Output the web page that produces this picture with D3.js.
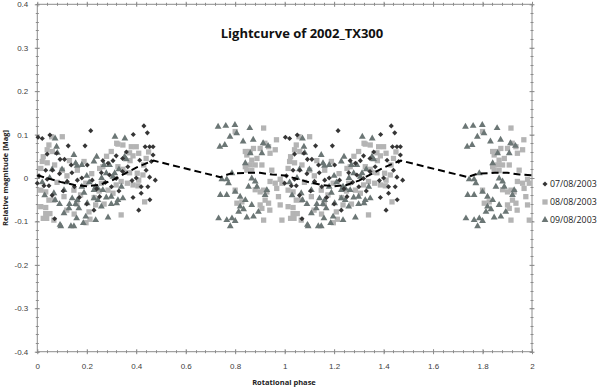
<!DOCTYPE html>
<html>
<head>
<meta charset="utf-8">
<script src="https://cdn.jsdelivr.net/npm/d3@7"></script>
<style>
  body { margin: 0; background: #fff; }
  svg { display: block; font-family: "Open Sans", "Noto Sans", sans-serif; }
  .axis path, .axis line { stroke: #8c8c8c; }
  .axis text { fill: #404040; font-size: 8px; }
</style>
</head>
<body>
<div id="chart"></div>
<script>
// phase (0..1) and relative magnitude; plotted twice (phase, phase + 1)
const day07 = [
  [0.003,0.094],[0.02,0.091],[0.051,0.099],[0.125,0.074],[0.193,0.074],[0.216,0.109],[0.04,0.055],
  [0.078,0.057],[0.092,0.043],[0.11,0.043],[0.137,0.03],[0.034,0.018],[0.061,0.018],[0.202,0.03],
  [0.007,0.005],[0.04,-0.003],[0.0,-0.012],[0.027,-0.018],[0.047,-0.018],[0.121,-0.008],[0.162,-0.005],
  [0.222,-0.005],[0.07,-0.094],[0.229,-0.074],[0.431,0.12],[0.445,0.104],[0.436,0.072],[0.454,0.072],
  [0.468,0.072],[0.468,0.053],[0.319,0.051],[0.414,0.041],[0.265,0.04],[0.286,0.034],[0.306,0.04],
  [0.366,0.026],[0.461,0.038],[0.259,0.012],[0.292,0.007],[0.44,0.018],[0.319,-0.001],[0.454,0.002],
  [0.477,-0.005],[0.42,-0.02],[0.447,-0.02],[0.383,-0.006],[0.387,-0.045],[0.41,-0.074],[0.252,-0.043],
  [0.09,0.01],[0.15,-0.02],[0.18,0.0],[0.105,-0.03],[0.24,-0.025],[0.345,0.015],[0.4,0.0],[0.33,-0.03],
  [0.17,-0.045],[0.06,-0.04],[0.14,0.012],[0.275,-0.01],[0.36,0.06],[0.388,0.1],[0.2,-0.06],
  [0.42,-0.035],[0.3,-0.02],[0.455,-0.05],[0.345,0.045]
];
const day08 = [
  [0.101,0.095],[0.058,0.095],[0.047,0.076],[0.04,0.065],[0.061,0.061],[0.02,0.038],[0.04,0.035],
  [0.024,0.049],[0.014,0.022],[0.189,0.038],[0.162,0.018],[0.101,0.018],[0.014,-0.028],[0.034,-0.032],
  [0.047,-0.051],[0.067,-0.051],[0.014,-0.066],[0.034,-0.068],[0.034,-0.082],[0.051,-0.082],[0.067,-0.097],
  [0.108,-0.043],[0.148,-0.028],[0.175,-0.039],[0.209,-0.078],[0.236,-0.062],[0.196,-0.012],
  [0.326,0.078],[0.346,0.076],[0.38,0.072],[0.4,0.072],[0.41,0.057],[0.373,0.058],[0.387,0.051],
  [0.299,0.061],[0.252,0.022],[0.265,0.026],[0.326,0.026],[0.346,0.02],[0.353,0.013],[0.373,0.012],
  [0.404,0.011],[0.427,0.007],[0.387,-0.016],[0.407,-0.018],[0.339,-0.008],[0.364,-0.012],[0.434,-0.055],
  [0.339,-0.085],[0.286,-0.028],[0.306,-0.035],[0.259,-0.012],[0.319,-0.016],[0.024,-0.093],[0.038,-0.093],
  [0.119,-0.074],[0.197,-0.103],[0.213,-0.095],[0.149,-0.083],[0.321,0.08],[0.375,0.04],
  [0.12,0.005],[0.08,-0.01],[0.22,0.01],[0.25,-0.03],[0.16,-0.06],[0.28,0.05],[0.43,0.03],[0.41,-0.005],
  [0.44,0.045],[0.13,0.04],[0.07,0.03],[0.23,-0.045],[0.27,-0.06],[0.45,0.06],
  [0.915,0.115],[0.8,0.107],[0.967,0.088],[0.92,0.08],[0.935,0.072],[0.962,0.065],[0.874,0.068],[0.901,0.068],
  [0.841,0.061],[0.861,0.061],[0.847,0.053],[0.888,0.045],[0.941,0.057],[0.867,0.041],[0.841,0.026],
  [0.861,0.03],[0.881,0.03],[0.908,0.03],[0.847,0.018],[0.867,0.017],[0.948,0.018],[0.982,-0.003],
  [0.989,-0.012],[0.968,-0.024],[0.941,-0.008],[0.962,-0.012],[0.915,-0.028],[0.928,-0.032],[0.8,-0.028],
  [0.881,-0.027],[0.901,-0.032],[0.807,-0.058],[0.827,-0.055],[0.921,-0.051],[0.935,-0.058],[0.901,-0.062],
  [0.908,-0.07],[0.975,-0.043],[0.982,-0.062],[0.915,-0.097],[0.989,-0.097],[0.94,-0.074]
];
const day09 = [
  [0.072,0.091],[0.078,0.072],[0.081,0.058],[0.148,0.053],[0.155,0.034],[0.229,0.038],[0.229,-0.028],
  [0.067,-0.035],[0.108,-0.028],[0.141,-0.047],[0.162,-0.051],[0.189,-0.034],[0.202,-0.058],[0.229,-0.047],
  [0.128,-0.07],[0.168,-0.07],[0.108,-0.081],[0.196,-0.089],[0.095,-0.111],[0.148,-0.111],[0.236,-0.097],
  [0.236,-0.02],[0.354,0.091],[0.314,0.095],[0.292,0.03],[0.279,0.011],[0.306,0.003],[0.313,0.011],
  [0.245,-0.024],[0.265,-0.028],[0.279,-0.045],[0.299,-0.043],[0.326,-0.051],[0.346,-0.047],[0.299,-0.06],
  [0.259,-0.066],[0.286,-0.091],[0.245,-0.051],[0.353,0.049],[0.36,0.043],[0.092,-0.108],[0.136,-0.111],
  [0.186,-0.104],[0.159,-0.093],[0.13,-0.06],[0.155,-0.06],[0.072,-0.051],[0.321,-0.058],
  [0.24,0.049],[0.161,0.028],[0.18,0.03],
  [0.1,0.02],[0.12,-0.01],[0.2,0.005],[0.26,0.0],[0.05,0.0],[0.03,-0.04],[0.18,-0.02],[0.33,0.02],
  [0.21,-0.01],[0.09,-0.06],[0.27,0.03],[0.34,-0.02],[0.02,-0.01],[0.06,0.02],
  [0.731,0.118],[0.762,0.12],[0.799,0.122],[0.859,0.115],[0.779,0.095],[0.806,0.103],[0.738,0.072],
  [0.758,0.076],[0.832,0.084],[0.873,0.088],[0.913,0.08],[0.933,0.074],[0.908,0.057],[0.861,0.057],
  [0.841,0.034],[0.787,0.011],[0.766,-0.003],[0.746,-0.003],[0.773,-0.012],[0.867,-0.001],[0.881,-0.008],
  [0.854,-0.02],[0.888,-0.02],[0.928,-0.028],[0.74,-0.039],[0.766,-0.039],[0.8,-0.032],[0.82,-0.043],
  [0.841,-0.051],[0.921,-0.039],[0.82,-0.066],[0.834,-0.072],[0.814,-0.078],[0.733,-0.093],[0.766,-0.097],
  [0.787,-0.093],[0.8,-0.099],[0.78,-0.111],[0.847,-0.091],[0.874,-0.089],[0.894,-0.078],[0.867,-0.062]
];

// fitted curve over one period
const fitPhase = [0, 0.05, 0.1, 0.15, 0.2, 0.25, 0.3, 0.35, 0.4, 0.45, 0.47, 0.74, 0.78, 0.85, 0.9, 0.95, 1.0];
const fitMag = [0.006, -0.002, -0.01, -0.016, -0.019, -0.016, -0.006, 0.009, 0.024, 0.036, 0.04, 0.002, 0.01, 0.012, 0.012, 0.008, 0.006];

const seriesNames = ['07/08/2003', '08/08/2003', '09/08/2003'];
const xTicks = [0, 0.2, 0.4, 0.6, 0.8, 1, 1.2, 1.4, 1.6, 1.8, 2];
const yTicks = [-0.4, -0.3, -0.2, -0.1, 0, 0.1, 0.2, 0.3, 0.4];

const width = 600, height = 387;
const margin = {top: 4.3, right: 68, bottom: 35.3, left: 37.3};

const svg = d3.select('#chart').append('svg')
  .attr('width', width)
  .attr('height', height);

const x = d3.scaleLinear().domain([0, 2]).range([margin.left, width - margin.right]);
const y = d3.scaleLinear().domain([-0.4, 0.4]).range([height - margin.bottom, margin.top]);

const fmt = d => String(+d.toFixed(1));

// minor ticks (both sides, crossing the frame)
const xMinor = d3.range(0, 2.0001, 0.04);
const yMinor = d3.range(-0.4, 0.4001, 0.02);
const minor = svg.append('g').attr('stroke', '#8c8c8c').attr('stroke-width', 1);
[y.range()[0], y.range()[1]].forEach(py => {
  minor.selectAll(null).data(xMinor).join('line')
    .attr('x1', d => Math.round(x(d)) + 0.5).attr('x2', d => Math.round(x(d)) + 0.5)
    .attr('y1', py - 1.5).attr('y2', py + 1.5);
});
[x.range()[0], x.range()[1]].forEach(px => {
  minor.selectAll(null).data(yMinor).join('line')
    .attr('y1', d => Math.round(y(d)) + 0.5).attr('y2', d => Math.round(y(d)) + 0.5)
    .attr('x1', px - 1.5).attr('x2', px + 1.5);
});

function crossTicks(g, dir) {
  g.selectAll('.tick line').each(function() {
    const l = d3.select(this);
    if (dir === 'h') l.attr('y1', -2.5).attr('y2', 2.5);
    else l.attr('x1', -2.5).attr('x2', 2.5);
  });
  g.select('.domain').remove();
}

svg.append('g').attr('class', 'axis')
  .attr('transform', `translate(0,${y(-0.4)})`)
  .call(d3.axisBottom(x).tickValues(xTicks).tickFormat(fmt).tickSize(3).tickPadding(9))
  .call(g => crossTicks(g, 'h'));
svg.append('g').attr('class', 'axis')
  .attr('transform', `translate(0,${y(0.4)})`)
  .call(d3.axisTop(x).tickValues(xTicks).tickFormat(''))
  .call(g => crossTicks(g, 'h'));
svg.append('g').attr('class', 'axis')
  .attr('transform', `translate(${x(0)},0)`)
  .call(d3.axisLeft(y).tickValues(yTicks).tickFormat(fmt).tickSize(3).tickPadding(6))
  .call(g => crossTicks(g, 'v'));
svg.append('g').attr('class', 'axis')
  .attr('transform', `translate(${x(2)},0)`)
  .call(d3.axisRight(y).tickValues(yTicks).tickFormat(''))
  .call(g => crossTicks(g, 'v'));

// frame
svg.append('rect')
  .attr('x', x(0)).attr('y', y(0.4))
  .attr('width', x(2) - x(0)).attr('height', y(-0.4) - y(0.4))
  .attr('fill', 'none').attr('stroke', '#8c8c8c');

const twoPeriods = arr => arr.concat(arr.map(d => [d[0] + 1, d[1]]));

// diamonds are squares turned by 45 degrees, as in the spreadsheet markers
const styles = [
  {data: day07, type: d3.symbolSquare, size: 13, rotate: 45, color: '#353535'},
  {data: day08, type: d3.symbolSquare, size: 28, rotate: 0, color: '#b4b4b4'},
  {data: day09, type: d3.symbolTriangle, size: 20, rotate: 0, color: '#6b7675'}
];

// draw squares first, then triangles, then diamonds on top
[1, 2, 0].forEach(i => {
  const s = styles[i];
  svg.append('g').selectAll('path')
    .data(twoPeriods(s.data))
    .join('path')
    .attr('transform', d => `translate(${x(d[0])},${y(d[1])}) rotate(${s.rotate})`)
    .attr('d', d3.symbol(s.type, s.size))
    .attr('fill', s.color);
});

// fitted curve (dashed)
const fitPts = fitPhase.map((p, i) => [p, fitMag[i]]);
const fitLine = fitPts.slice(0, -1).concat(fitPts.map(d => [d[0] + 1, d[1]]));
svg.append('path')
  .datum(fitLine)
  .attr('fill', 'none')
  .attr('stroke', '#000')
  .attr('stroke-width', 2)
  .attr('stroke-dasharray', '7,4')
  .attr('d', d3.line().x(d => x(d[0])).y(d => y(d[1])));

// title
svg.append('text')
  .attr('x', 302).attr('y', 38)
  .attr('text-anchor', 'middle')
  .attr('font-size', 13).attr('font-weight', 'bold')
  .attr('fill', '#111')
  .text('Lightcurve of 2002_TX300');

// axis titles
svg.append('text')
  .attr('x', 284).attr('y', 385)
  .attr('text-anchor', 'middle')
  .attr('font-size', 7.5).attr('font-weight', 'bold')
  .attr('fill', '#222')
  .text('Rotational phase');
svg.append('text')
  .attr('transform', `translate(8,${y(0)}) rotate(-90)`)
  .attr('text-anchor', 'middle')
  .attr('font-size', 7.5).attr('font-weight', 'bold')
  .attr('fill', '#222')
  .text('Relative magnitude [Mag]');

// legend
const legend = svg.append('g');
seriesNames.forEach((name, i) => {
  const ly = 184 + i * 18;
  legend.append('path')
    .attr('transform', `translate(545,${ly}) rotate(${styles[i].rotate})`)
    .attr('d', d3.symbol(styles[i].type, styles[i].size))
    .attr('fill', styles[i].color);
  legend.append('text')
    .attr('x', 550).attr('y', ly + 3.2)
    .attr('font-size', 8.8)
    .attr('fill', '#222')
    .text(name);
});
</script>
</body>
</html>
